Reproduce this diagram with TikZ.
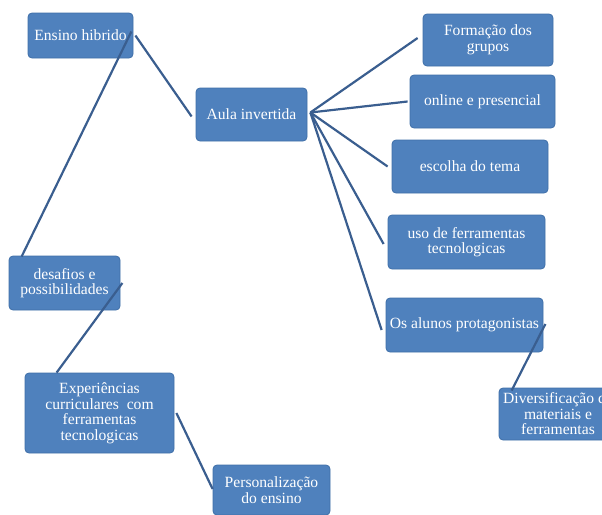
\documentclass[tikz,border=0pt]{standalone}
\usepackage{fontspec}
\setmainfont{Liberation Serif}
\definecolor{boxblue}{HTML}{4F81BD}
\definecolor{boxedge}{HTML}{3F6FA8}
\definecolor{linkblue}{HTML}{3A5E8F}
\begin{document}
\begin{tikzpicture}[x=1pt,y=-1pt,
  topic/.style={draw=boxedge, line width=0.8pt, fill=boxblue, rounded corners=4pt,
    text=white, align=center, inner sep=1pt,
    font=\fontsize{15.6}{15.5}\selectfont},
  link/.style={draw=linkblue, line width=2.2pt}]
\useasboundingbox (0,0) rectangle (602,514);
\clip (0,0) rectangle (602,514);

% boxes
\node[topic, minimum width=105pt, minimum height=45pt] (eh) at (80.5,35.5) {Ensino hibrido};
\node[topic, minimum width=111pt, minimum height=53pt] (ai) at (251.5,114.5) {Aula invertida};
\node[topic, minimum width=130pt, minimum height=52pt] (fg) at (488,40) {Formação dos\\grupos};
\node[topic, minimum width=145pt, minimum height=53pt] (op) at (482.5,101.5) {online e presencial};
\node[topic, minimum width=156pt, minimum height=53pt] (et) at (470,166.5) {escolha do tema};
\node[topic, minimum width=157pt, minimum height=54pt] (uf) at (466.5,242) {uso de ferramentas\\tecnologicas};
\node[topic, minimum width=157pt, minimum height=54pt] (oa) at (464.5,325) {Os alunos protagonistas};
\node[topic, minimum width=111pt, minimum height=54pt] (ds) at (64.5,283) {desafios e\\possibilidades};
\node[topic, minimum width=149pt, minimum height=80pt] (ex) at (99.5,413) {Experiências\\curriculares~ com\\ferramentas\\tecnologicas};
\node[topic, minimum width=117pt, minimum height=50pt] (ps) at (271.5,490) {Personalização\\do ensino};
\node[topic, minimum width=118pt, minimum height=52pt] (dv) at (558,414) {Diversificação de\\materiais e\\ferramentas};

% connectors
\draw[link] ([xshift=2pt]eh.east) -- ([xshift=-4pt,yshift=-2pt]ai.west);
\draw[link] ([xshift=-2pt,yshift=4pt]eh.east) -- ([xshift=13pt,yshift=-1pt]ds.north west);
\draw[link] ([xshift=3pt,yshift=2pt]ai.east) -- ([xshift=-5pt,yshift=2pt]fg.west);
\draw[link] ([xshift=3pt,yshift=2pt]ai.east) -- ([xshift=-2pt]op.west);
\draw[link] ([xshift=3pt,yshift=2pt]ai.east) -- ([xshift=-4pt]et.west);
\draw[link] ([xshift=3pt,yshift=2pt]ai.east) -- ([xshift=-4pt,yshift=-2pt]uf.west);
\draw[link] ([xshift=3pt,yshift=2pt]ai.east) -- ([xshift=-4pt,yshift=-5pt]oa.west);
\draw[link] ([xshift=2pt]ds.east) -- ([xshift=32pt]ex.north west);
\draw[link] ([xshift=2pt]ex.east) -- ([yshift=1pt]ps.west);
\draw[link] ([xshift=2pt,yshift=1pt]oa.east) -- ([xshift=13pt,yshift=-3pt]dv.north west);
\end{tikzpicture}
\end{document}
